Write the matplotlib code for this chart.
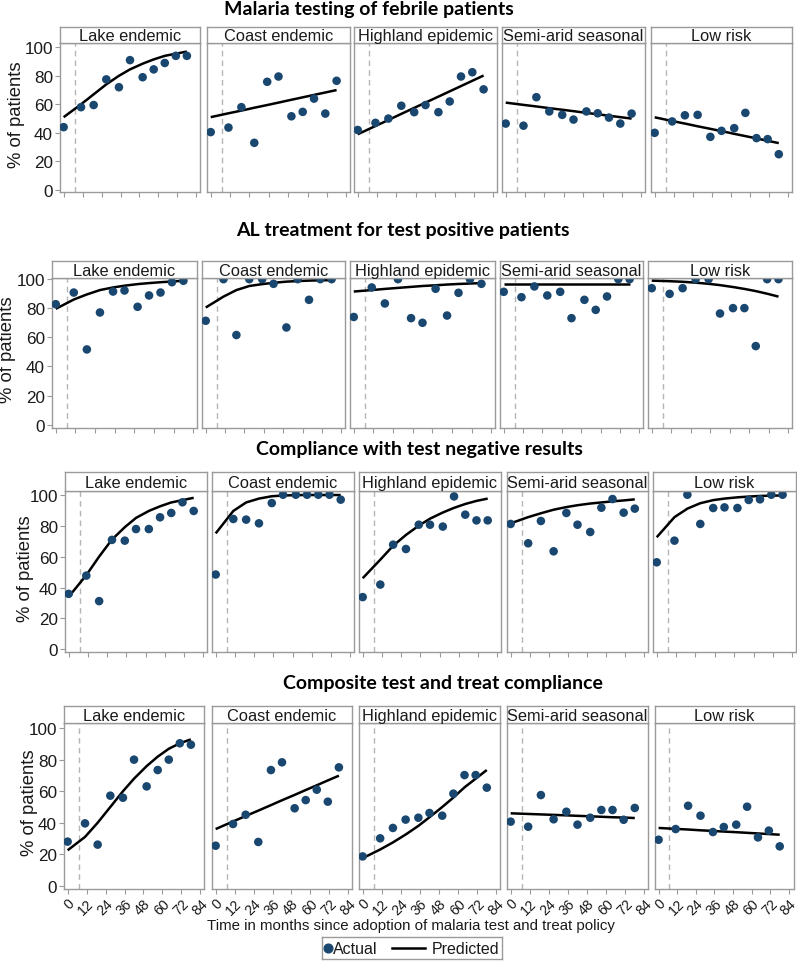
import matplotlib
matplotlib.use("Agg")
import matplotlib.pyplot as plt
from matplotlib.lines import Line2D

W, H = 797, 962

months = [0, 11, 19, 27, 35, 42, 50, 57, 64, 71, 78]
policy_month = 7
regions = ["Lake endemic", "Coast endemic", "Highland epidemic",
           "Semi-arid seasonal", "Low risk"]
x_ticks = [0, 12, 24, 36, 48, 60, 72, 84]
y_ticks = [0, 20, 40, 60, 80, 100]

titles = ["Malaria testing of febrile patients",
          "AL treatment for test positive patients",
          "Compliance with test negative results",
          "Composite test and treat compliance"]
legend_labels = ["Actual", "Predicted"]
x_label = "Time in months since adoption of malaria test and treat policy"
y_label = "% of patients"

# --- Malaria testing of febrile patients ---
testing_actual = [
    [44, 58, 59.5, 77.5, 72, 91, 79, 84.5, 89, 94, 94],
    [40.5, 43.7, 58, 33, 75.8, 79.5, 51.6, 54.7, 64, 53.5, 76.5],
    [42, 47, 50, 59, 54.5, 59.5, 54.5, 62, 79.5, 82.5, 70.5],
    [46.5, 45, 65, 55, 52.6, 49.3, 55, 53.7, 50.7, 46.5, 53.5],
    [40, 48, 52.3, 52.6, 37.2, 41.4, 43.3, 54, 36.3, 35.6, 25],
]
testing_pred = [
    [51, 60, 67, 74, 80, 84.5, 88.5, 91.5, 94, 95.5, 97],
    [51, 53.7, 55.6, 57.6, 59.5, 61.2, 63.2, 64.9, 66.6, 68.3, 70],
    [39, 44.8, 49, 53.3, 57.5, 61.2, 65.4, 69.1, 72.8, 76.5, 80.2],
    [61.2, 59.6, 58.5, 57.3, 56.2, 55.2, 54, 53, 52, 51, 50],
    [50.9, 48.3, 46.5, 44.6, 42.8, 41.2, 39.3, 37.7, 36.1, 34.4, 32.8],
]

# --- AL treatment for test positive patients ---
al_actual = [
    [82.8, 90.8, 51.7, 77.1, 91.5, 92.2, 81, 88.8, 90.8, 97.9, 98.9],
    [71.4, 100, 61.6, 100, 100, 96.8, 66.8, 100, 85.8, 100, 100],
    [74, 94.3, 83.3, 100, 73.2, 70, 93.4, 75, 90.6, 100, 96.8],
    [91.3, 87.6, 95, 88.8, 91.3, 73.2, 85.8, 78.9, 88.1, 100, 100],
    [93.8, 89.9, 93.8, 100, 100, 76.4, 80.1, 80.1, 54, 100, 100],
]
al_pred = [
    [79.6, 86, 89.5, 92.5, 94.3, 95.5, 96.6, 97.3, 97.9, 98.4, 98.9],
    [80.5, 88, 92.5, 95.3, 96.6, 97.5, 98.3, 98.7, 99, 99.2, 99.3],
    [91.5, 92.5, 93.3, 94, 94.7, 95.3, 95.8, 96.3, 96.7, 97, 97.3],
    [96.6, 96.6, 96.6, 96.6, 96.6, 96.6, 96.6, 96.6, 96.6, 96.6, 96.6],
    [99, 98.6, 98.2, 97.6, 96.8, 95.9, 94.6, 93.3, 91.8, 90, 88],
]

# --- Compliance with test negative results ---
neg_actual = [
    [35.9, 47.7, 31.2, 70.8, 70.3, 77.8, 77.8, 85.4, 88.2, 95.1, 89.5],
    [48.4, 84.3, 83.9, 81.5, 94.6, 100, 100, 100, 100, 100, 96.8],
    [33.8, 41.9, 67.7, 64.9, 80.6, 80.6, 79.4, 98.9, 87.1, 83.4, 83.4],
    [81.1, 68.6, 83, 63.4, 88.2, 80.6, 75.9, 91.6, 97.2, 88.4, 91],
    [56.3, 70.3, 100, 81.1, 91.4, 91.8, 91.4, 96.6, 97, 100, 100],
]
neg_pred = [
    [34, 48, 60, 71, 79, 85, 89.5, 92.5, 95, 96.5, 98],
    [75, 89.5, 95, 97.5, 99, 99.5, 99.7, 99.8, 99.8, 99.8, 99.8],
    [46, 58, 67, 74, 80, 84.5, 88.5, 91.5, 94, 96, 97.5],
    [81.5, 85.5, 88, 90.3, 92, 93.2, 94.3, 95, 95.7, 96.3, 97],
    [72.5, 85.5, 91, 94.5, 96.5, 97.5, 98.3, 98.8, 99.2, 99.4, 99.5],
]

# --- Composite test and treat compliance ---
comp_actual = [
    [28, 39.6, 26.1, 57.2, 55.9, 80.1, 63.1, 73.5, 80.1, 90.5, 89.6],
    [25.4, 39.2, 45.1, 27.8, 73.5, 78.4, 49.2, 54.4, 61, 53.4, 75.2],
    [18.6, 30.1, 36.7, 42, 43.2, 46.2, 44.5, 58.5, 70.3, 70.3, 62.3],
    [40.7, 37.5, 57.6, 42.2, 47, 38.8, 43.2, 48.1, 48.1, 41.9, 49.4],
    [29.2, 36, 50.8, 44.5, 34.1, 37.3, 38.8, 50.2, 30.7, 35, 25],
]
comp_pred = [
    [22.5, 31, 40, 50, 60, 68, 76, 82, 87, 90.5, 93],
    [36, 40.8, 44.3, 47.7, 51.2, 54.3, 57.7, 60.8, 63.8, 66.9, 69.9],
    [17.5, 23, 27.5, 32.5, 38, 43.5, 50, 56, 62.5, 68, 73.5],
    [46, 45.6, 45.3, 45, 44.7, 44.4, 44.1, 43.8, 43.5, 43.3, 43],
    [36.7, 36.1, 35.7, 35.2, 34.8, 34.4, 34, 33.6, 33.2, 32.8, 32.4],
]

actual_sets = [testing_actual, al_actual, neg_actual, comp_actual]
pred_sets = [testing_pred, al_pred, neg_pred, comp_pred]

# ---------------- layout (pixels) ----------------
row_cols = [
    [(60, 200), (207, 350), (354, 497), (502, 645), (651, 792)],
    [(52, 197), (202, 345), (350, 495), (500, 643), (648, 792)],
    [(65, 207), (212, 354), (359, 501), (507, 648), (653, 796)],
    [(64, 204), (212, 352), (359, 500), (507, 648), (655, 794)],
]
row_top = [44.3, 279, 492, 724.3]
row_bot = [193, 429, 652.7, 890]
strip_top = [28, 262, 473, 706.7]
row_ylim = [(-1.5, 102.8), (-2.3, 100.8), (-1.5, 102.4), (-2.1, 103.2)]
title_pos = [(369, 9), (403, 230.5), (419, 449), (443, 684)]
ylabel_x = [17, 8, 26, 29.5]

NAVY = "#1a476f"
FRAME = "#9a9a9a"
TXT = "#1a1a1a"

plt.rcParams["font.family"] = ["Liberation Sans", "DejaVu Sans"]

fig = plt.figure(figsize=(W / 100, H / 100), dpi=100)


def px_box(l, t, r, b):
    return [l / W, 1 - b / H, (r - l) / W, (b - t) / H]


for ri in range(4):
    for ci, (l, r) in enumerate(row_cols[ri]):
        ax = fig.add_axes(px_box(l, row_top[ri], r, row_bot[ri]))
        xr = 86.3 if not (ri == 3 and ci == 4) else 87.2
        ax.set_xlim(-2.3, xr)
        ax.set_ylim(*row_ylim[ri])
        ax.axvline(policy_month, color="#b5b5b5", lw=1, ls=(0, (4, 3)), zorder=1)
        ax.plot(months, pred_sets[ri][ci], color="black", lw=1.8, zorder=3,
                solid_capstyle="butt")
        ax.scatter(months, actual_sets[ri][ci], s=38, color=NAVY,
                   edgecolors="none", zorder=4, clip_on=True)
        for sp in ax.spines.values():
            sp.set_color(FRAME)
            sp.set_linewidth(1.0)
        ax.set_xticks(x_ticks)
        ax.set_yticks(y_ticks)
        ax.tick_params(axis="both", direction="out", length=3.5, width=0.8,
                       color=FRAME, labelcolor=TXT, pad=1.5)
        if ri == 3:
            ax.set_xticklabels([str(v) for v in x_ticks], rotation=45,
                               ha="right", rotation_mode="anchor", fontsize=10.2)
        else:
            ax.set_xticklabels([])
        if ci == 0:
            ax.set_yticklabels([str(v) for v in y_ticks], fontsize=12.3)
        else:
            ax.tick_params(axis="y", left=False, labelleft=False)
        # strip
        sax = fig.add_axes(px_box(l, strip_top[ri], r, row_top[ri]))
        sax.set_xticks([])
        sax.set_yticks([])
        sax.set_facecolor("white")
        for sp in sax.spines.values():
            sp.set_color(FRAME)
            sp.set_linewidth(1.0)
        sax.text(0.5, 0.47, regions[ci], ha="center", va="center",
                 fontsize=11.8, color=TXT, transform=sax.transAxes)

    tx, ty = title_pos[ri]
    fig.text(tx / W, 1 - ty / H, titles[ri], ha="center", va="center",
             fontsize=14, fontweight="bold", family=["Lato", "DejaVu Sans"],
             color="black")
    yc = (row_top[ri] + row_bot[ri]) / 2 - 4
    fig.text(ylabel_x[ri] / W, 1 - yc / H, y_label, rotation=90,
             ha="center", va="center", fontsize=13.3, color=TXT)

fig.text(411 / W, 1 - 926.5 / H, x_label,
         ha="center", va="center", fontsize=10.8, color=TXT)

# legend box drawn in pixel space
lax = fig.add_axes(px_box(322, 938, 502, 960))
lax.set_xlim(322, 502)
lax.set_ylim(960, 938)
lax.set_xticks([])
lax.set_yticks([])
for sp in lax.spines.values():
    sp.set_color(FRAME)
    sp.set_linewidth(1.0)
lax.add_line(Line2D([327.5], [949], marker="o", ls="", color=NAVY, ms=6.3))
lax.text(333, 949.5, legend_labels[0], ha="left", va="center", fontsize=11.5,
         color=TXT)
lax.add_line(Line2D([392, 425], [949, 949], color="black", lw=1.8))
lax.text(432, 949.5, legend_labels[1], ha="left", va="center", fontsize=11.5,
         color=TXT)

fig.savefig("out.png", dpi=100, facecolor="white")
